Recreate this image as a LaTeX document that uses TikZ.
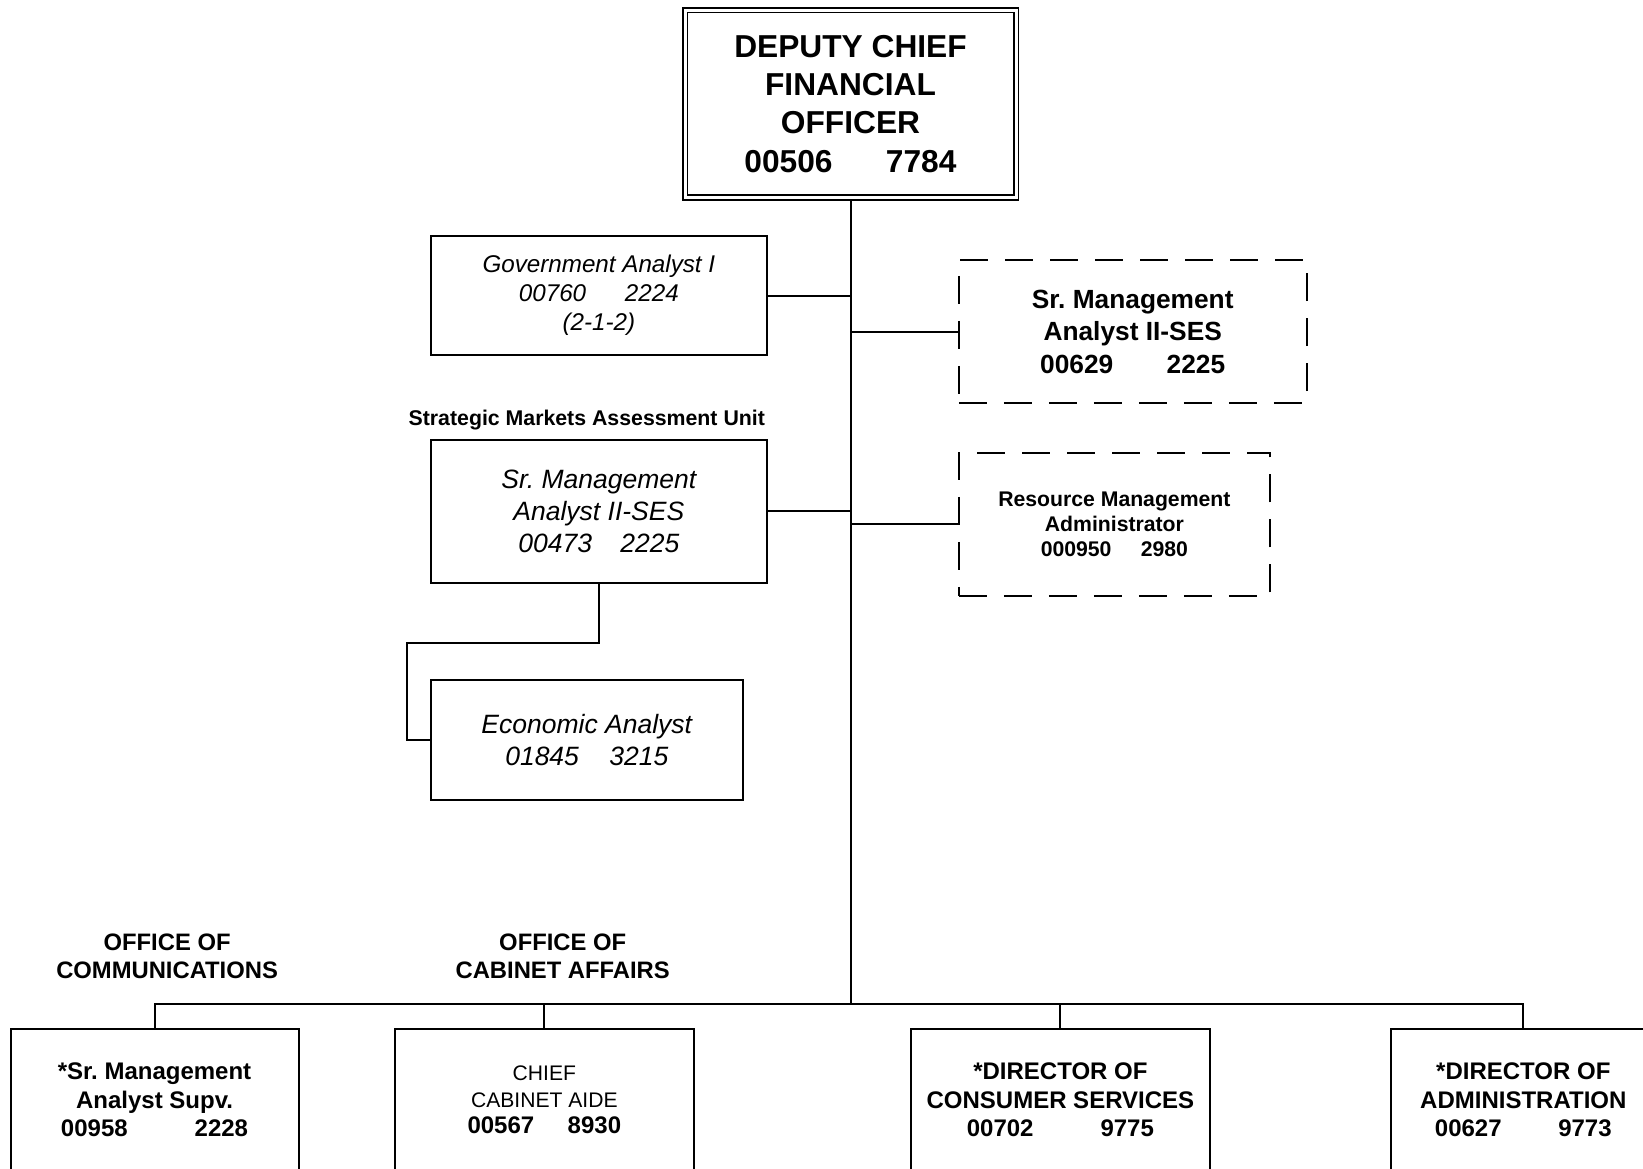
\documentclass[tikz,border=0pt]{standalone}
\usepackage{fontspec}
\setmainfont{Liberation Sans}
\frenchspacing
\newcommand{\setfs}[2]{\fontsize{#1pt}{#2pt}\selectfont}
\begin{document}
\begin{tikzpicture}[x=1pt,y=1pt,
  box/.style={draw, line width=2pt, inner sep=0pt, align=center},
  dashbox/.style={box, dash pattern=on 28pt off 17pt},
  conn/.style={line width=2pt},
  botbox/.style={box, anchor=north, minimum height=141.6pt,
    font=\setfs{24}{28.8}\bfseries},
  heading/.style={align=center, inner sep=0pt, font=\setfs{23.8}{28.3}\bfseries}
]
\useasboundingbox (0,0) rectangle (1643,-1168);

% head of the office
\node[box, double, line width=1.7pt, double distance=3pt, outer sep=3.2pt,
      minimum width=331pt, minimum height=187.5pt,
      font=\setfs{31.7}{38.3}\bfseries] (dcfo) at (850.5,-103.75)
  {DEPUTY CHIEF\\FINANCIAL\\OFFICER\\00506\hspace{53.4pt}7784};

% staff boxes along the trunk
\node[box, minimum width=336.3pt, minimum height=119.4pt,
      font=\setfs{24.2}{28.8}\itshape] (gov) at (598.85,-295.5)
  {Government Analyst I\\00760\hspace{38.8pt}2224\\(2-1-2)};

\node[dashbox, minimum width=347.8pt, minimum height=143.5pt,
      font=\setfs{26.3}{32.5}\bfseries] (smd) at (1132.7,-331.6)
  {Sr. Management\\Analyst II-SES\\00629\hspace{53.4pt}2225};

\node[inner sep=0pt, font=\setfs{21.3}{25}\bfseries] (unit) at (586.8,-420)
  {Strategic Markets Assessment Unit};

\node[box, minimum width=336.3pt, minimum height=142.6pt,
      font=\setfs{26.5}{32}\itshape] (smi) at (598.85,-511.3)
  {Sr. Management\\Analyst II-SES\\00473\hspace{28.3pt}2225};

\node[dashbox, minimum width=311.2pt, minimum height=143.5pt,
      font=\setfs{21.2}{25.1}\bfseries] (rma) at (1114.4,-524.45)
  {Resource Management\\Administrator\\000950\hspace{29.3pt}2980};

\node[box, minimum width=312pt, minimum height=120.5pt,
      font=\setfs{26.5}{31.4}\itshape] (econ) at (586.8,-740.2)
  {Economic Analyst\\01845\hspace{30.4pt}3215};

% office headings
\node[heading] (comm) at (167.1,-956) {OFFICE OF\\COMMUNICATIONS};
\node[heading] (cab) at (562.7,-956) {OFFICE OF\\CABINET AFFAIRS};

% bottom row (open at the lower edge)
\node[botbox, minimum width=288.1pt] (b1) at (154.55,-1028)
  {*Sr. Management\\Analyst Supv.\\00958\hspace{67pt}2228};
\node[botbox, minimum width=298.7pt, font=\setfs{21.1}{26.7}\mdseries] (b2) at (544.35,-1028)
  {CHIEF\\CABINET AIDE\\{\setfs{24}{26.7}\bfseries 00567\hspace{33.5pt}8930}};
\node[botbox, minimum width=299.6pt] (b3) at (1060.4,-1028)
  {*DIRECTOR OF\\CONSUMER SERVICES\\00702\hspace{67pt}9775};
\node[botbox, minimum width=264.6pt] (b4) at (1523.3,-1028)
  {*DIRECTOR OF\\ADMINISTRATION\\00627\hspace{56.6pt}9773};

% connectors
\coordinate (bus) at (851,-1004);
\coordinate (elbow) at (407,-642.5);
\draw[conn] (dcfo.south -| bus) -- (bus);
\draw[conn] (gov.east) -- (gov.east -| bus);
\draw[conn] (smd.west) -- (smd.west -| bus);
\draw[conn] (smi.east) -- (smi.east -| bus);
\draw[conn] (rma.west) -- (rma.west -| bus);
\draw[conn] (smi.south) |- (elbow) |- (econ.west);
\draw[conn] (b1.north) -- (b1.north |- bus) -- (b4.north |- bus) -- (b4.north);
\draw[conn] (b2.north) -- (b2.north |- bus);
\draw[conn] (b3.north) -- (b3.north |- bus);
\end{tikzpicture}
\end{document}
